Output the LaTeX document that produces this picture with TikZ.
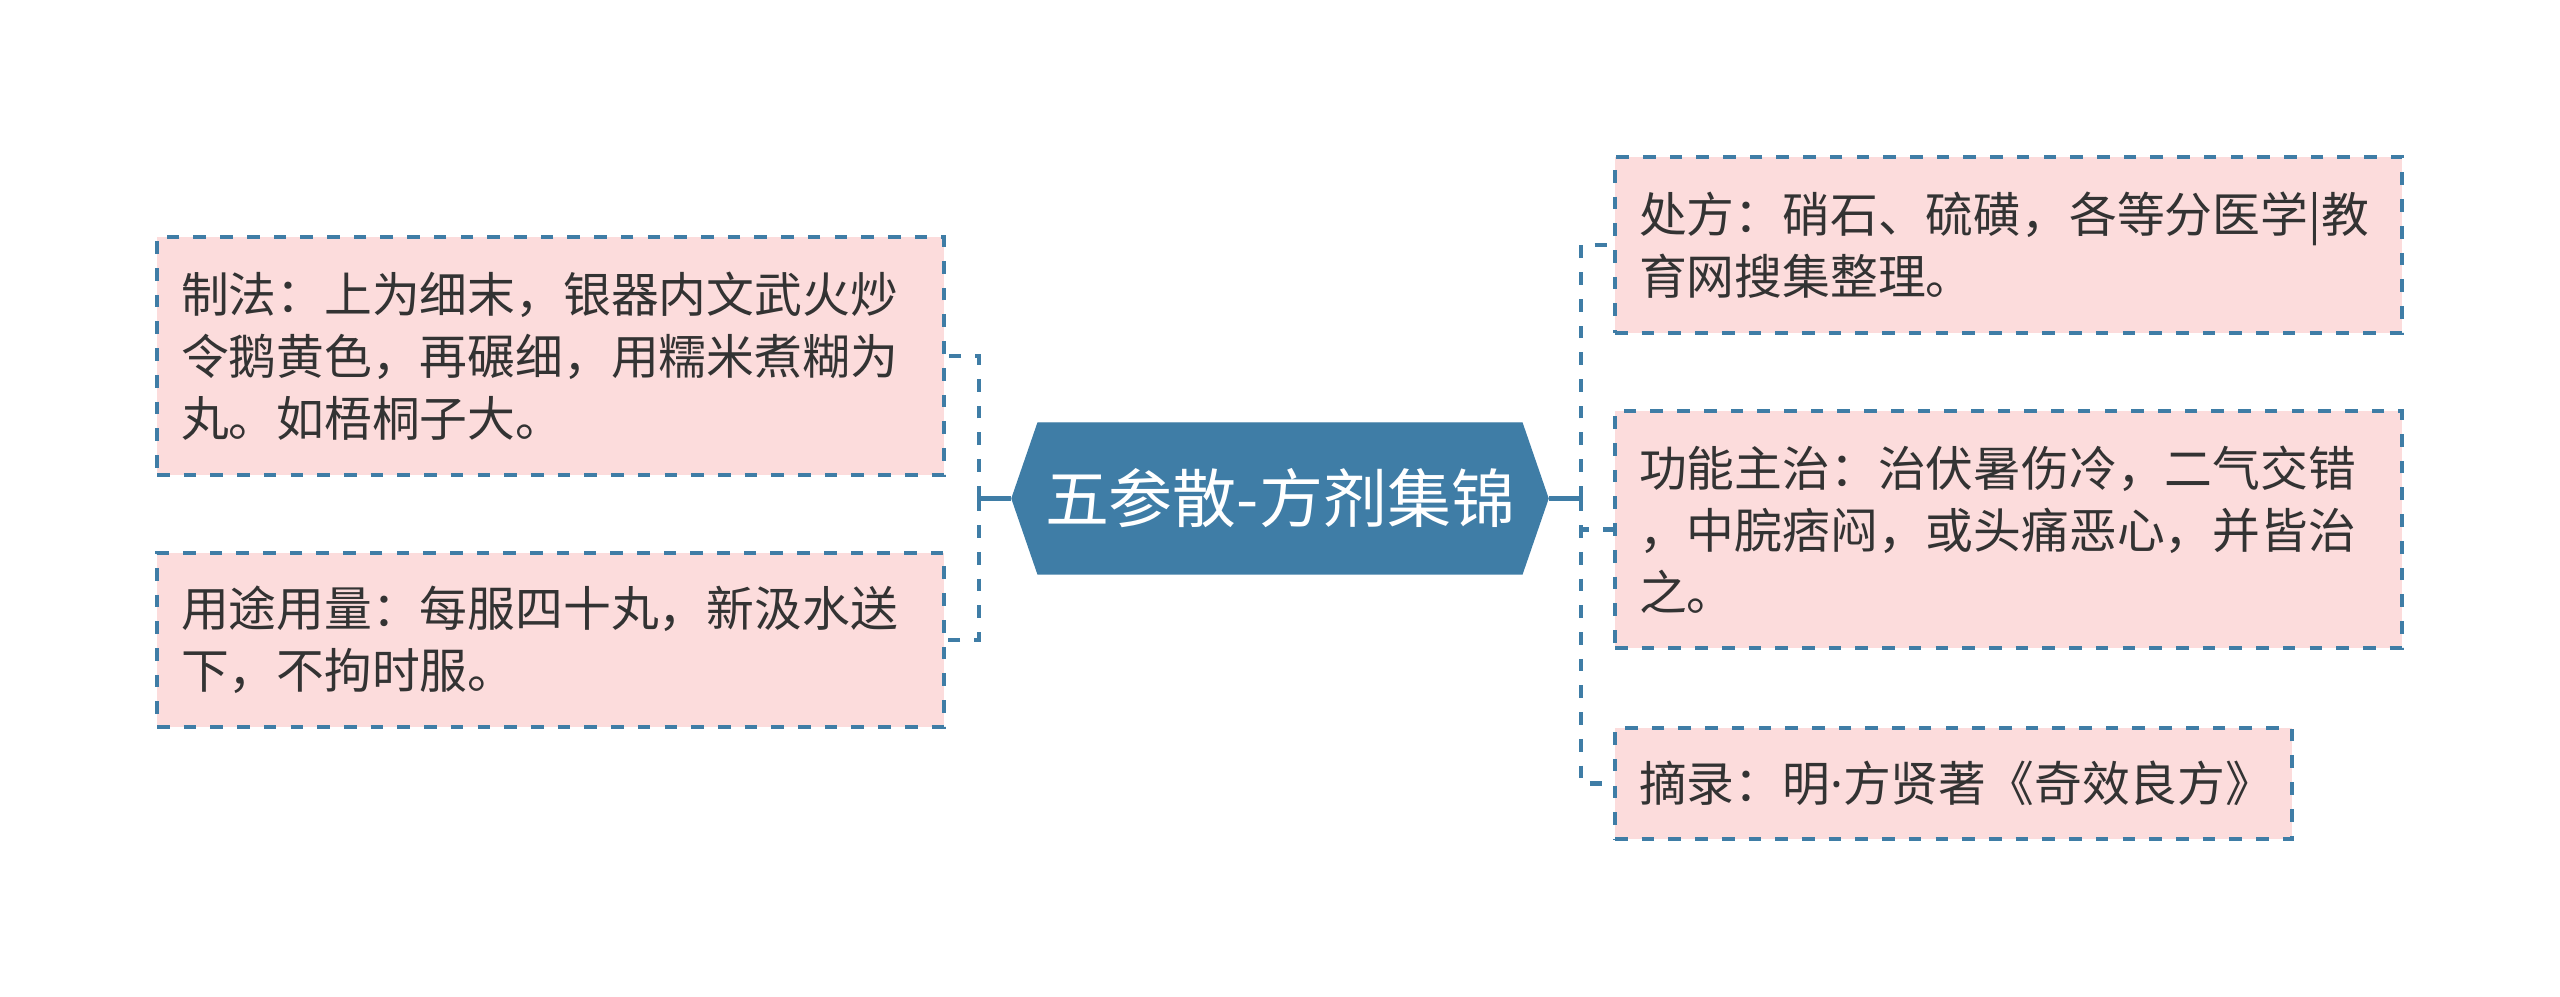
\documentclass[tikz,border=0pt]{standalone}
\usepackage{fontspec}
\setmainfont{Noto Sans CJK SC}
\newfontfamily\latinfont{Noto Sans}
\usepackage{xcolor}
\usepackage{tikz}
\usetikzlibrary{positioning, shapes.symbols}

\definecolor{hubblue}{HTML}{3F7DA6}
\definecolor{leafpink}{HTML}{FCDCDC}
\definecolor{inkgray}{HTML}{333333}

\begin{document}
\begin{tikzpicture}[
    leaf/.style={draw=hubblue, fill=leafpink, line width=1.05pt,
                 dash pattern=on 3.6pt off 4.0pt, align=left,
                 font=\fontsize{13.6pt}{17.6pt}\selectfont, text=inkgray,
                 inner xsep=0.24cm, inner ysep=0pt, anchor=center},
    hub/.style={shape=signal, signal to=west and east, signal pointer angle=142,
                fill=hubblue, draw=hubblue, text=white, inner sep=0pt,
                minimum width=5.36cm, minimum height=1.51cm,
                font=\fontsize{18.2pt}{22pt}\selectfont},
    solidlink/.style={draw=hubblue, line width=1.3pt},
    dashlink/.style={draw=hubblue, line width=1.3pt, dash pattern=on 3.6pt off 4.0pt},
]
\useasboundingbox (0, 0) rectangle (25.6, -9.97);

\node[hub] (hub) at (12.80, -4.985) {五参散-方剂集锦};

% Left branch
\node[leaf, text width=7.39cm, minimum height=2.38cm] (zf) at (5.505, -3.56)
    {制法：上为细末，银器内文武火炒\\令鹅黄色，再碾细，用糯米煮糊为\\丸。如梧桐子大。};
\node[leaf, text width=7.39cm, minimum height=1.74cm] (yt) at (5.505, -6.40)
    {用途用量：每服四十丸，新汲水送\\下，不拘时服。};

% Right branch
\node[leaf, text width=7.39cm, minimum height=1.76cm] (cf) at (20.085, -2.45)
    {处方：硝石、硫磺，各等分医学|教\\育网搜集整理。};
\node[leaf, text width=7.39cm, minimum height=2.37cm] (gn) at (20.085, -5.295)
    {功能主治：治伏暑伤冷，二气交错\\，中脘痞闷，或头痛恶心，并皆治\\之。};
\node[leaf, text width=6.29cm, minimum height=1.11cm] (zl) at (19.535, -7.835)
    {摘录：明{\latinfont ·}方贤著《奇效良方》};

% Connectors
\coordinate (lt) at (9.79, -4.985);
\coordinate (rt) at (15.81, -4.985);
\draw[solidlink] (hub.west) -- (lt);
\draw[solidlink] (hub.east) -- (rt);
\draw[dashlink] (lt) |- (zf.east);
\draw[dashlink] (lt) |- (yt.east);
\draw[dashlink] (rt) |- (cf.west);
\draw[dashlink] (rt) |- (gn.west);
\draw[dashlink] (rt) |- (zl.west);
\end{tikzpicture}
\end{document}
